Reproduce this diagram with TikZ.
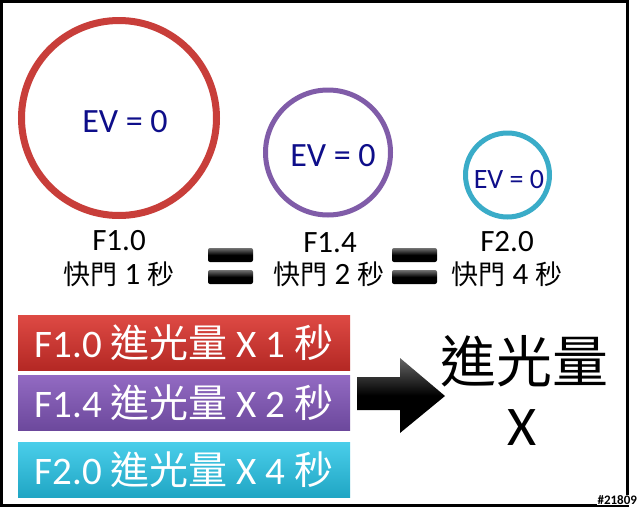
\documentclass[tikz,border=0pt]{standalone}
\usepackage{fontspec}
\setmainfont{Carlito}
\newfontfamily\cjk{Noto Sans CJK TC}
\newcommand{\smallcjk}[1]{{\cjk\fontsize{27}{32}\selectfont #1}}
\definecolor{ringred}{RGB}{200,62,58}
\definecolor{ringpurple}{RGB}{128,92,168}
\definecolor{ringcyan}{RGB}{58,172,200}
\definecolor{evblue}{RGB}{14,14,138}
\definecolor{redtop}{RGB}{222,74,68}
\definecolor{redbot}{RGB}{180,40,36}
\definecolor{purtop}{RGB}{146,106,194}
\definecolor{purbot}{RGB}{108,72,156}
\definecolor{cyantop}{RGB}{74,206,234}
\definecolor{cyanbot}{RGB}{32,166,196}
\begin{document}
\begin{tikzpicture}[x=1pt,y=-1pt,
  ring/.style={circle, inner sep=0pt, line width=#1},
  evtext/.style={text=evblue, inner sep=0pt, font=\fontsize{#1}{#1}\selectfont},
  flabel/.style={inner sep=0pt, font=\fontsize{31}{36}\selectfont},
  slabel/.style={inner sep=0pt, font=\fontsize{31}{34}\selectfont},
  eqbar/.style={rounded corners=2pt, top color=black!55, bottom color=black, middle color=black},
  colorbox/.style={rectangle, inner sep=0pt, minimum width=332pt, minimum height=55pt,
     text=white, font=\fontsize{39}{42}\selectfont,
     top color=#1top, bottom color=#1bot},
  bigtext/.style={inner sep=0pt, font=\fontsize{56}{60}\selectfont}
]
\useasboundingbox (0,0) rectangle (640,509);
\fill[white] (0,0) rectangle (640,509);
\draw[line width=3pt] (1.5,1.5) rectangle (627,505.5);

% rings
\node[ring=7pt, draw=ringred, minimum size=195pt] (c1) at (119,118) {};
\node[ring=5pt, draw=ringpurple, minimum size=125pt] (c2) at (328,152.5) {};
\node[ring=5pt, draw=ringcyan, minimum size=84pt] (c3) at (507.5,175) {};

\node[evtext=34] (ev1) at (125,122) {EV = 0};
\node[evtext=34] (ev2) at (333,156) {EV = 0};
\node[evtext=28] (ev3) at (509,180) {EV = 0};

% labels
\node[flabel] (f1) at (119,241) {F1.0};
\node[slabel] (s1) at (119,274) {\smallcjk{快門} 1 \smallcjk{秒}};
\node[flabel] (f2) at (330,243) {F1.4};
\node[slabel] (s2) at (329,274) {\smallcjk{快門} 2 \smallcjk{秒}};
\node[flabel] (f3) at (507,242) {F2.0};
\node[slabel] (s3) at (507,274) {\smallcjk{快門} 4 \smallcjk{秒}};

% equals signs
\shade[eqbar] (208,248) rectangle (253,262);
\shade[eqbar] (208,270) rectangle (253,284);
\shade[eqbar] (392,248) rectangle (437,262);
\shade[eqbar] (392,270) rectangle (437,284);

% boxes
\node[colorbox=red] (b1) at (184,342.5) {F1.0 {\cjk 進光量} X 1 {\cjk 秒}};
\node[colorbox=pur] (b2) at (184,403) {F1.4 {\cjk 進光量} X 2 {\cjk 秒}};
\node[colorbox=cyan] (b3) at (184,469.5) {F2.0 {\cjk 進光量} X 4 {\cjk 秒}};

% arrow
\shade[top color=black!60, bottom color=black, middle color=black]
  (357,377) -- (400,377) -- (400,358) -- (445,396) -- (400,433) -- (400,410) -- (357,410) -- cycle;

% result
\node[bigtext] (r1) at (524,361) {\cjk 進光量};
\node[bigtext] (r2) at (522,428) {X};

% watermark
\node[fill=white, inner sep=0.8pt, anchor=east, font=\bfseries\fontsize{13}{13}\selectfont] (wm) at (638,500) {\#21809};
\end{tikzpicture}
\end{document}
